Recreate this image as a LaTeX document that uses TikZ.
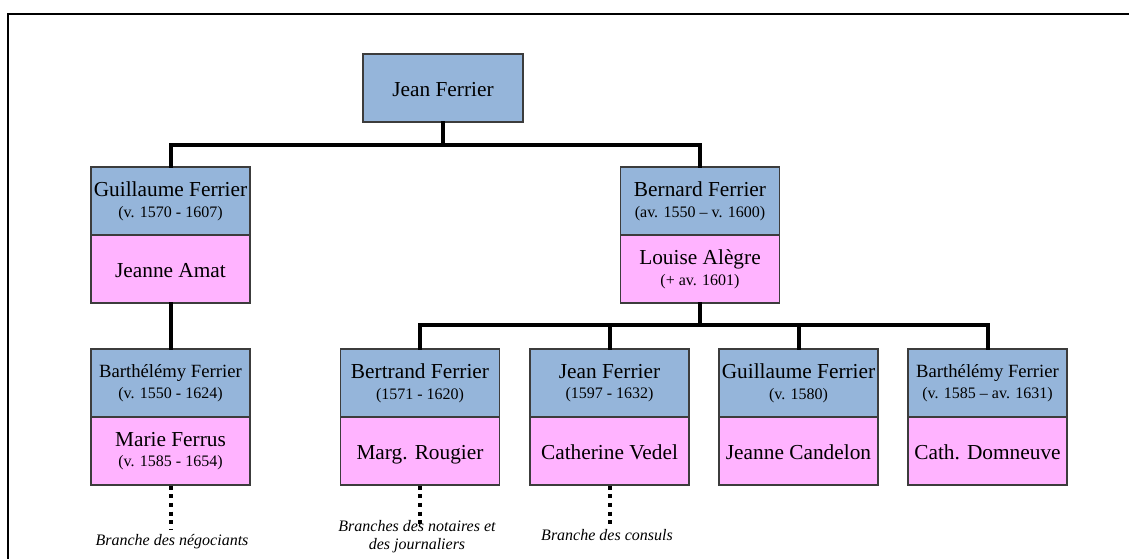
\documentclass[tikz,border=0pt]{standalone}
\usepackage{fontspec}
\setmainfont{Liberation Serif}
\definecolor{boxblue}{RGB}{149,181,218}
\definecolor{boxpink}{RGB}{255,179,255}
\definecolor{boxline}{RGB}{60,60,60}
\tikzset{
  person/.style={draw=boxline, line width=0.8pt, minimum width=119.25pt, minimum height=51pt,
    inner sep=0pt, align=center, font=\fontsize{12}{15.5}\selectfont},
  upper/.style={person, fill=boxblue},
  lower/.style={person, fill=boxpink},
  conn/.style={line width=3pt, line join=miter, line cap=rect},
  branchline/.style={line width=3pt, dash pattern=on 3pt off 3.5pt},
  branchlabel/.style={font=\fontsize{12}{13.5}\selectfont\itshape, align=center, inner sep=0pt}
}
\newcommand{\bignm}[1]{{\fontsize{16}{15.5}\selectfont #1}}
\newcommand{\midnm}[1]{{\fontsize{14}{15.5}\selectfont #1}}
\newcommand{\onenm}[1]{{\fontsize{16}{15.5}\selectfont\vphantom{g}\rule{0pt}{0.97em}#1}}
\begin{document}
\begin{tikzpicture}[x=0.75pt,y=-0.75pt]
\useasboundingbox (0,0) rectangle (1129,558);
\clip (0,0) rectangle (1129,558);
% frame
\draw[line width=1.5pt] (8,570) -- (8,14) -- (1140,14);

% generation 1
\node[upper, minimum width=120pt] (jean) at (443,88) {\onenm{Jean Ferrier}};

% generation 2
\node[upper] (guilU) at (170.5,201) {\bignm{Guillaume Ferrier}\\(v. 1570 - 1607)};
\node[lower] (guilL) at (170.5,269) {\onenm{Jeanne Amat}};
\node[upper] (bernU) at (700,201) {\bignm{Bernard Ferrier}\\(av. 1550 -- v. 1600)};
\node[lower] (bernL) at (700,269) {\bignm{Louise Alègre}\\(+ av. 1601)};

% generation 3
\node[upper] (barU) at (170.5,383) {\midnm{Barthélémy Ferrier}\\(v. 1550 - 1624)};
\node[lower] (barL) at (170.5,451) {\bignm{Marie Ferrus}\\(v. 1585 - 1654)};
\node[upper] (bertU) at (420,383) {\bignm{Bertrand Ferrier}\\(1571 - 1620)};
\node[lower] (bertL) at (420,451) {\onenm{Marg. Rougier}};
\node[upper] (jean2U) at (609.5,383) {\bignm{Jean Ferrier}\\(1597 - 1632)};
\node[lower] (jean2L) at (609.5,451) {\onenm{Catherine Vedel}};
\node[upper] (guil2U) at (798.5,383) {\bignm{Guillaume Ferrier}\\(v. 1580)};
\node[lower] (guil2L) at (798.5,451) {\onenm{Jeanne Candelon}};
\node[upper] (bar2U) at (987.5,383) {\midnm{Barthélémy Ferrier}\\(v. 1585 -- av. 1631)};
\node[lower] (bar2L) at (987.5,451) {\onenm{Cath. Domneuve}};

% connectors
\draw[conn] (jean.south) -- (jean.south |- 0,145);
\draw[conn] (guilU.north) |- (bernU.north |- 0,145) -- (bernU.north);
\draw[conn] (guilL.south) -- (barU.north);
\draw[conn] (bernL.south) -- (bernL.south |- 0,325);
\draw[conn] (bertU.north) |- (bar2U.north |- 0,325) -- (bar2U.north);
\draw[conn] (jean2U.north) -- (jean2U.north |- 0,325);
\draw[conn] (guil2U.north) -- (guil2U.north |- 0,325);

% branch labels
\node[branchlabel] (negoc) at (172,542) {Branche des négociants};
\node[branchlabel] (notai) at (417,537) {Branches des notaires et\\des journaliers};
\node[branchlabel] (consu) at (607,535) {Branche des consuls};
\coordinate (negocTop) at (170.5,530);
\coordinate (notaiTop) at (420,524);
\coordinate (consuTop) at (609.5,526);
\draw[branchline] (barL.south) -- (negocTop);
\draw[branchline] (bertL.south) -- (notaiTop);
\draw[branchline] (jean2L.south) -- (consuTop);
\end{tikzpicture}
\end{document}
